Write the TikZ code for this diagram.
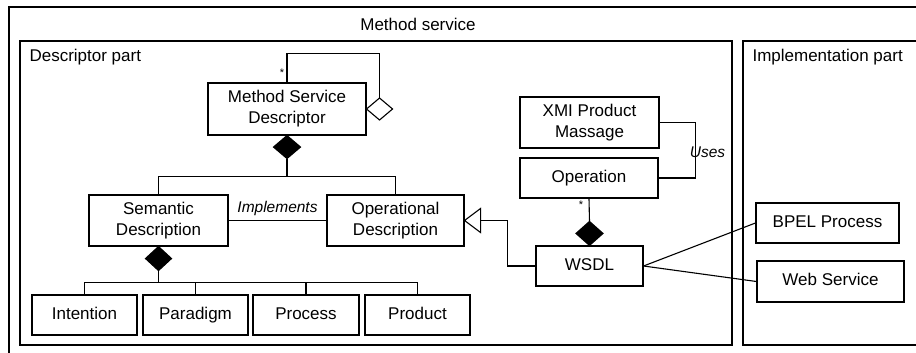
\documentclass[tikz,border=0pt]{standalone}
\usepackage{fontspec}
\setmainfont{Liberation Sans}
\usetikzlibrary{calc}
\begin{document}
\begin{tikzpicture}[x=1pt,y=-1pt,line width=1.1pt,
  box/.style={draw,align=center,inner sep=0pt,font=\fontsize{17}{21}\selectfont},
  onebox/.style={box,text height=12.2pt,text depth=3.6pt},
  lbl/.style={inner sep=0pt,font=\fontsize{17}{21}\selectfont},
  ital/.style={inner sep=0pt,font=\fontsize{15.5}{18}\selectfont\itshape},
  star/.style={inner sep=0pt,font=\fontsize{11}{12}\selectfont}]
\useasboundingbox (0,0) rectangle (916,353);
\clip (0,0) rectangle (916,353);
% frames
\draw (9,7) rectangle (940,380);
\draw (20,41) rectangle (732,345);
\draw (743,41) rectangle (940,345);
\node[lbl] (title) at (418,24) {Method service};
\node[lbl,anchor=west] (dpart) at (29,57) {Descriptor part};
\node[lbl,anchor=west] (ipart) at (752,57) {Implementation part};
% boxes
\node[box,minimum width=158pt,minimum height=52pt] (msd) at (287,109) {Method Service\\Descriptor};
\node[box,minimum width=139pt,minimum height=51pt] (sem) at (158.5,220.5) {Semantic\\Description};
\node[box,minimum width=137pt,minimum height=51pt] (op) at (395.5,220.5) {Operational\\Description};
\node[onebox,minimum width=105pt,minimum height=40pt] (int) at (84.5,315) {Intention};
\node[onebox,minimum width=105pt,minimum height=40pt] (par) at (195.5,315) {Paradigm};
\node[onebox,minimum width=106pt,minimum height=40pt] (proc) at (306,315) {Process};
\node[onebox,minimum width=105pt,minimum height=40pt] (prod) at (417.5,315) {Product};
\node[box,minimum width=139pt,minimum height=51pt] (xmi) at (589.5,122.5) {XMI Product\\Massage};
\node[onebox,minimum width=138pt,minimum height=40pt] (oper) at (589,178) {Operation};
\node[onebox,minimum width=107pt,minimum height=40pt] (wsdl) at (589.5,266) {WSDL};
\node[onebox,minimum width=143pt,minimum height=40pt] (bpel) at (827.5,223) {BPEL Process};
\node[onebox,minimum width=147pt,minimum height=41pt] (ws) at (830.5,281.5) {Web Service};
% self aggregation on MSD
\coordinate (agtop) at ($(msd.east)+(13,-11)$);
\draw[fill=white] (msd.east) -- (agtop) -- ++(13,11) -- ++(-13,11) -- cycle;
\draw (msd.north) -- ++(0,-29) -| (agtop);
\node[star] (st1) at (282,73) {*};
% composition MSD -> Semantic / Operational
\coordinate (d1b) at ($(msd.south)+(0,23)$);
\draw[fill=black] (msd.south) -- ++(13.5,11.5) -- (d1b) -- ++(-13.5,-11.5) -- cycle;
\coordinate (bar1) at ($(d1b)+(0,18)$);
\draw (d1b) -- (bar1);
\draw (sem.north) |- (bar1) -| (op.north);
% implements
\draw (sem.east) -- node[ital,above=4pt] {Implements} (op.west);
% composition Semantic -> four
\coordinate (d2b) at ($(sem.south)+(0,24)$);
\draw[fill=black] (sem.south) -- ++(13,12) -- (d2b) -- ++(-13,-12) -- cycle;
\coordinate (bar2) at ($(d2b)+(0,12)$);
\draw (d2b) -- (bar2);
\draw (int.north) |- (bar2) -| (prod.north);
\draw (par.north) -- (par.north |- bar2);
\draw (proc.north) -- (proc.north |- bar2);
% operation -> wsdl composition
\coordinate (d3t) at ($(wsdl.north)+(0,-24)$);
\draw[fill=black] (wsdl.north) -- ++(13.5,-12) -- (d3t) -- ++(-13.5,12) -- cycle;
\draw (oper.south) -- (d3t);
\node[star] (st2) at (581,205) {*};
% generalization WSDL -> Operational
\coordinate (tribase) at ($(op.east)+(16,0)$);
\draw[fill=white] (op.east) -- ($(tribase)+(0,-12)$) -- ($(tribase)+(0,12)$) -- cycle;
\draw (wsdl.west) -- ++(-28,0) |- (tribase);
% uses
\coordinate (usr) at ($(xmi.east)+(36,0)$);
\draw (xmi.east) -- (usr) |- (oper.east);
\node[ital] (uses) at (707.5,152) {Uses};
% implementation links
\draw (wsdl.east) -- (bpel.west);
\draw (wsdl.east) -- (ws.west);
\end{tikzpicture}
\end{document}
